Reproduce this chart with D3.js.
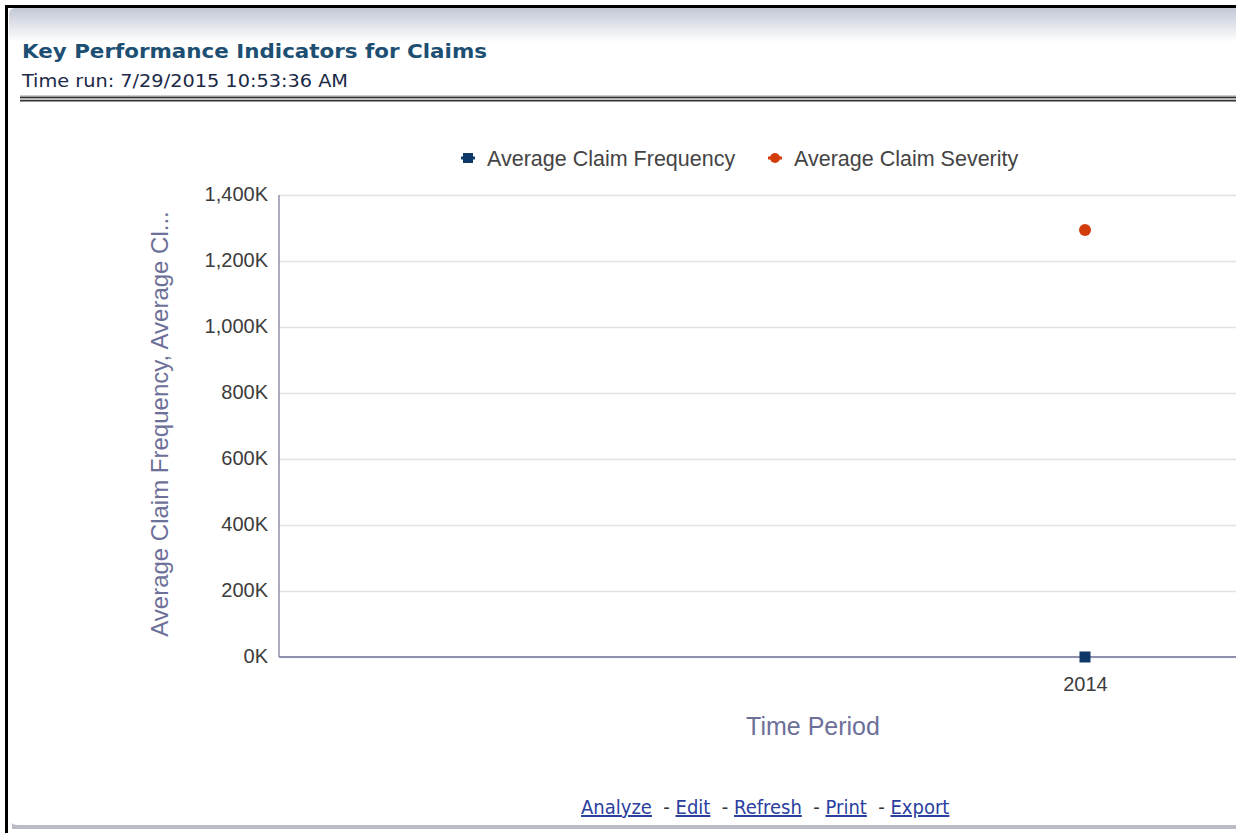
<!DOCTYPE html>
<html>
<head>
<meta charset="utf-8">
<script src="https://cdn.jsdelivr.net/npm/d3@7"></script>
<style>
  html, body { margin: 0; padding: 0; background: #fff; }
  svg { display: block; }
</style>
</head>
<body>
<div id="chart"></div>
<script>
// chart data
const periods = ["2014"];
const claimFrequency = [0];
const claimSeverity = [1294000];
const yTicks = [0, 200000, 400000, 600000, 800000, 1000000, 1200000, 1400000];
const seriesNames = ["Average Claim Frequency", "Average Claim Severity"];
const footerLinks = ["Analyze", "Edit", "Refresh", "Print", "Export"];

const width = 1236;
const height = 833;

const svg = d3.select('#chart')
  .append('svg')
  .attr('width', width)
  .attr('height', height);

// panel background + top gradient
const defs = svg.append('defs');
const grad = defs.append('linearGradient')
  .attr('id', 'topGrad')
  .attr('x1', 0).attr('y1', 0).attr('x2', 0).attr('y2', 1);
grad.append('stop').attr('offset', '0%').attr('stop-color', '#c3c8d6');
grad.append('stop').attr('offset', '100%').attr('stop-color', '#ffffff');

svg.append('rect')
  .attr('x', 0).attr('y', 0)
  .attr('width', width).attr('height', height)
  .attr('fill', '#fff');

// bottom shadow line
svg.append('rect')
  .attr('x', 12).attr('y', 823)
  .attr('width', width).attr('height', 6)
  .attr('fill', '#b9bcc6');
svg.append('rect')
  .attr('x', 9).attr('y', 8)
  .attr('width', width).attr('height', 817)
  .attr('rx', 8)
  .attr('fill', '#fff');
svg.append('rect')
  .attr('x', 9).attr('y', 8)
  .attr('width', width).attr('height', 34)
  .attr('rx', 6)
  .attr('fill', 'url(#topGrad)');

// outer black frame (left + top)
svg.append('rect').attr('x', 5).attr('y', 5).attr('width', width).attr('height', 3).attr('fill', '#000');
svg.append('rect').attr('x', 5).attr('y', 5).attr('width', 3).attr('height', height).attr('fill', '#000');

// title block
svg.append('text')
  .attr('x', 22).attr('y', 58)
  .attr('font-family', 'DejaVu Sans, Verdana, sans-serif')
  .attr('font-weight', 'bold')
  .attr('font-size', 20)
  .attr('fill', '#1d4f73')
  .attr('textLength', 465)
  .attr('lengthAdjust', 'spacingAndGlyphs')
  .text('Key Performance Indicators for Claims');

svg.append('text')
  .attr('x', 22).attr('y', 87)
  .attr('font-family', 'DejaVu Sans Condensed, DejaVu Sans, sans-serif')
  .attr('font-size', 17)
  .attr('fill', '#1b2a48')
  .attr('textLength', 326)
  .attr('lengthAdjust', 'spacingAndGlyphs')
  .text('Time run: 7/29/2015 10:53:36 AM');

// double rule under header
[[95.5, 1.5, '#9a9a9a'], [97, 1.5, '#333'], [98.5, 1.5, '#c4c4c4'], [100, 1.5, '#333']].forEach(([y, h, c]) => {
  svg.append('rect')
    .attr('x', 20).attr('y', y)
    .attr('width', width).attr('height', h)
    .attr('fill', c);
});

// scales
const plotLeft = 279;
const plotTop = 195;
const plotBottom = 657;
const plotRight = 1891; // chart continues past the visible frame

const x = d3.scalePoint()
  .domain(periods)
  .range([plotLeft, plotRight])
  .padding(0.5);

const y = d3.scaleLinear()
  .domain([0, 1400000])
  .range([plotBottom, plotTop]);

const fmt = d => d3.format(',')(d / 1000) + 'K';

// gridlines + y axis
const yAxis = svg.append('g')
  .attr('transform', `translate(${plotLeft},0)`)
  .call(d3.axisLeft(y).tickValues(yTicks).tickFormat(fmt).tickSize(-(plotRight - plotLeft)).tickPadding(11));

yAxis.select('.domain').remove();
yAxis.selectAll('.tick line')
  .attr('stroke', '#e1e1e8')
  .attr('stroke-width', 1.5);
yAxis.selectAll('.tick text')
  .attr('font-family', 'Liberation Sans, Arial, sans-serif')
  .attr('font-size', 20)
  .attr('dy', '0.28em')
  .attr('fill', '#3c3c3c');

// axis lines
svg.append('line')
  .attr('x1', plotLeft).attr('x2', plotLeft)
  .attr('y1', plotTop).attr('y2', plotBottom)
  .attr('stroke', '#8f90ad').attr('stroke-width', 1.5);
svg.append('line')
  .attr('x1', plotLeft).attr('x2', width)
  .attr('y1', plotBottom).attr('y2', plotBottom)
  .attr('stroke', '#8f90ad').attr('stroke-width', 2);

// x axis labels
const xAxis = svg.append('g')
  .attr('transform', `translate(0,${plotBottom})`)
  .call(d3.axisBottom(x).tickSize(0).tickPadding(20));
xAxis.select('.domain').remove();
xAxis.selectAll('.tick text')
  .attr('font-family', 'Liberation Sans, Arial, sans-serif')
  .attr('font-size', 20)
  .attr('fill', '#3c3c3c');

// axis titles
svg.append('text')
  .attr('transform', `translate(168,${(plotTop + plotBottom) / 2 - 2}) rotate(-90)`)
  .attr('text-anchor', 'middle')
  .attr('font-family', 'Liberation Sans, Arial, sans-serif')
  .attr('font-size', 24)
  .attr('fill', '#6d7099')
  .text('Average Claim Frequency, Average Cl...');

svg.append('text')
  .attr('x', 813).attr('y', 735)
  .attr('text-anchor', 'middle')
  .attr('font-family', 'Liberation Sans, Arial, sans-serif')
  .attr('font-size', 25)
  .attr('fill', '#6d7099')
  .text('Time Period');

// series markers
const freqColor = '#0d3868';
const sevColor = '#d23c0a';

svg.selectAll('rect.freq')
  .data(periods.map((p, i) => ({ p, v: claimFrequency[i] })))
  .enter()
  .append('rect')
  .attr('class', 'freq')
  .attr('x', d => x(d.p) - 5.5)
  .attr('y', d => y(d.v) - 5.5)
  .attr('width', 11).attr('height', 11)
  .attr('fill', freqColor);

svg.selectAll('circle.sev')
  .data(periods.map((p, i) => ({ p, v: claimSeverity[i] })))
  .enter()
  .append('circle')
  .attr('class', 'sev')
  .attr('cx', d => x(d.p))
  .attr('cy', d => y(d.v))
  .attr('r', 6)
  .attr('fill', sevColor);

// legend
const legendItems = [
  { name: seriesNames[0], color: freqColor, shape: 'square', x: 468 },
  { name: seriesNames[1], color: sevColor, shape: 'circle', x: 775 }
];
const legend = svg.append('g').attr('transform', 'translate(0,158)');
legendItems.forEach(item => {
  const g = legend.append('g').attr('transform', `translate(${item.x},0)`);
  g.append('line')
    .attr('x1', -7).attr('x2', 7)
    .attr('stroke', item.color).attr('stroke-width', 3);
  if (item.shape === 'square') {
    g.append('rect').attr('x', -5).attr('y', -5).attr('width', 10).attr('height', 10).attr('fill', item.color);
  } else {
    g.append('circle').attr('r', 5).attr('fill', item.color);
  }
  g.append('text')
    .attr('x', 19).attr('y', 8)
    .attr('font-family', 'Liberation Sans, Arial, sans-serif')
    .attr('font-size', 21.5)
    .attr('fill', '#444')
    .text(item.name);
});

// footer links
const footer = svg.append('text')
  .attr('x', 581).attr('y', 814)
  .attr('font-family', 'DejaVu Sans Condensed, DejaVu Sans, sans-serif')
  .attr('font-size', 20);
footerLinks.forEach((name, i) => {
  if (i > 0) {
    footer.append('tspan').attr('fill', '#333').attr('xml:space', 'preserve').text('  - ');
  }
  footer.append('tspan')
    .attr('fill', '#2b3f9f')
    .attr('text-decoration', 'underline')
    .text(name);
});
</script>
</body>
</html>
